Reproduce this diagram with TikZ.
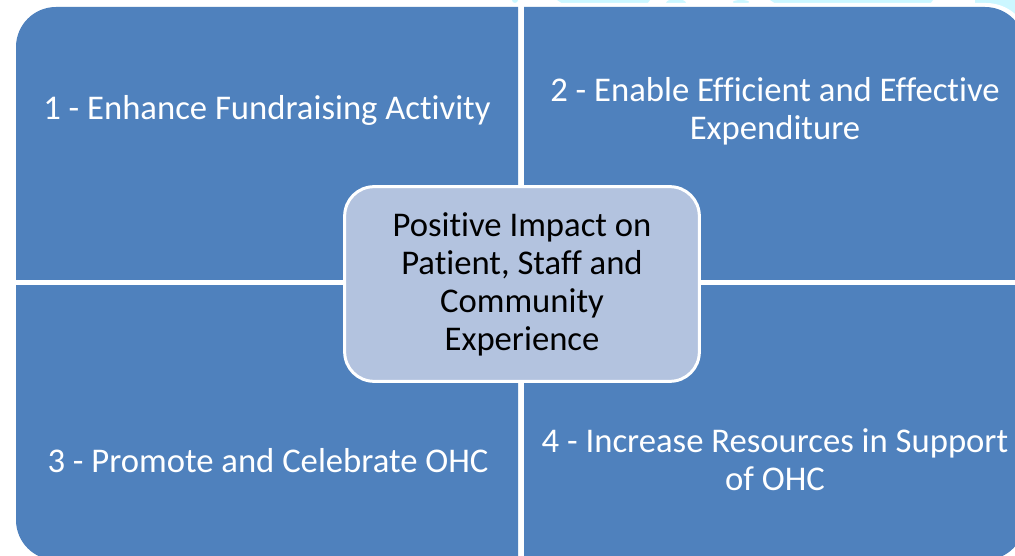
\documentclass[tikz,border=0pt]{standalone}
\usepackage{fontspec}
\setmainfont{Carlito}[Ligatures=NoCommon]
\usetikzlibrary{positioning}
\definecolor{quadblue}{HTML}{4F81BD}
\definecolor{hubblue}{HTML}{B3C3DF}
\definecolor{paleaqua}{HTML}{CCF7FF}

\begin{document}
\begin{tikzpicture}[x=0.75pt,y=-0.75pt,
  quad/.style={fill=quadblue,rounded corners=30pt},
  quadtext/.style={text=white,align=center,font=\fontsize{26}{28.5}\selectfont},
  hub/.style={fill=hubblue,draw=white,line width=2.25pt,rounded corners=22pt,
    minimum width=266pt,minimum height=146pt,align=center,
    font=\fontsize{26}{28.5}\selectfont}]
\useasboundingbox (0,0) rectangle (1015,556);
% pale shapes behind, cut by the top edge
\fill[paleaqua] (515,0) circle (3);
\fill[paleaqua] (557,0)--(650,0)--(647,4)--(563,4)--cycle;
\fill[paleaqua] (676,3) ellipse (10 and 4);
\fill[paleaqua] (741,2) ellipse (8 and 2);
\fill[paleaqua] (770,0)--(933,0)--(930,4)--(776,4)--cycle;
\fill[paleaqua] (975,0) rectangle (1015,30);
\fill[white,rounded corners=33pt] (11,3) rectangle (1030,570);
% four quadrants, outer corners rounded only
\begin{scope}
\clip (16,7) rectangle (518,280);
\fill[quad] (16,7) rectangle (700,500);
\end{scope}
\begin{scope}
\clip (524,7) rectangle (1025,280);
\fill[quad] (300,7) rectangle (1025,500);
\end{scope}
\begin{scope}
\clip (16,286) rectangle (518,560);
\fill[quad] (16,0) rectangle (700,560);
\end{scope}
\begin{scope}
\clip (524,286) rectangle (1025,560);
\fill[quad] (300,0) rectangle (1025,560);
\end{scope}
\node[quadtext] (q1) at (267,110) {1 - Enhance Fundraising Activity};
\node[quadtext] (q2) at (775,111) {2 - Enable Efficient and Effective\\Expenditure};
\node[quadtext] (q3) at (268,461) {3 - Promote and Celebrate OHC};
\node[quadtext] (q4) at (775,460) {4 - Increase Resources in Support\\of OHC};
\node[hub] (impact) at (522,284) {Positive Impact on\\Patient, Staff and\\Community\\Experience};
\end{tikzpicture}
\end{document}
